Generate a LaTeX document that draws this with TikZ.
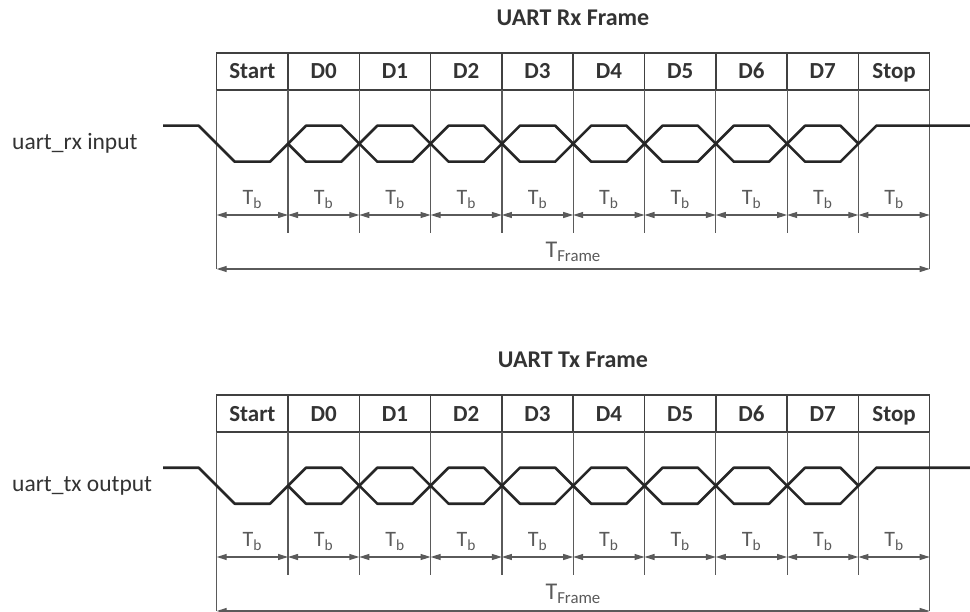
\documentclass[tikz,border=0pt]{standalone}
\usepackage{fontspec}
\setmainfont{Carlito}
\usetikzlibrary{arrows.meta}
\definecolor{linegray}{HTML}{404040}
\definecolor{textgray}{HTML}{333333}
\definecolor{dimgray}{HTML}{5a5a5a}
\tikzset{
  cell/.style={draw=linegray, line width=1.5pt, minimum width=71.3pt, minimum height=37pt,
    inner sep=0pt, text height=15pt, text depth=0pt, font=\fontsize{23}{26}\selectfont\bfseries, text=textgray},
  wave/.style={line width=2.6pt, black!85, line join=round},
  divider/.style={line width=1.2pt, dimgray},
  span/.style={line width=1.1pt, dimgray, {Triangle[length=10pt,width=6pt]}-{Triangle[length=10pt,width=6pt]}},
  dimlabel/.style={text=dimgray, inner sep=0pt, font=\fontsize{22}{26}\selectfont},
}
\begin{document}
\begin{tikzpicture}[x=1pt, y=-1pt, font=\fontsize{23.5}{27}\selectfont]
\useasboundingbox (0,0) rectangle (970,612);
\foreach \fr/\dy/\sig/\ttl in {rx/0/uart\_rx input/UART Rx Frame, tx/342/uart\_tx output/UART Tx Frame}{
\begin{scope}[yshift=-\dy pt]
\node[font=\fontsize{24}{27}\selectfont\bfseries, text=textgray] (\fr-title) at (573,18) {\ttl};
\node[anchor=west, text=textgray, inner sep=0pt] (\fr-sig) at (12,143.7) {\sig};
\foreach \lbl [count=\i from 0] in {Start,D0,D1,D2,D3,D4,D5,D6,D7,Stop}
  \node[cell] (\fr-c\i) at (216.7+71.3*\i+35.65,71.5) {\lbl};
\foreach \i in {0,...,10}{
  \coordinate (\fr-b\i) at (216.7+71.3*\i,90);
  \coordinate (\fr-a\i) at (216.7+71.3*\i,215);
  \coordinate (\fr-e\i) at (216.7+71.3*\i,233);
  \coordinate (\fr-f\i) at (216.7+71.3*\i,269);
}
\foreach \i in {1,...,9}
  \draw[divider] (\fr-b\i) -- (\fr-e\i);
\draw[divider] (\fr-b0) -- (\fr-f0);
\draw[divider] (\fr-b10) -- (\fr-f10);
\draw[wave] (163,125.7) -- (198.7,125.7) -- (234.7,161.7) -- (270,161.7) -- (288,143.7);
\foreach \i in {1,...,8}{
  \draw[wave] (216.7+71.3*\i,143.7) -- ++(18,-18) -- (216.7+71.3*\i+53.3,125.7) -- ++(18,18)
    -- ++(-18,18) -- (216.7+71.3*\i+18,161.7) -- cycle;
}
\draw[wave] (858.4,143.7) -- (876.4,125.7) -- (970,125.7);
\foreach \i [evaluate=\i as \j using int(\i+1)] in {0,...,9}
  \draw[span] (\fr-a\i) -- node[dimlabel, above=6pt] {T\textsubscript{b}} (\fr-a\j);
\draw[span] (\fr-f0) -- node[dimlabel, above=7pt, font=\fontsize{24}{27}\selectfont] {T\textsubscript{Frame}} (\fr-f10);
\end{scope}
}
\end{tikzpicture}
\end{document}
